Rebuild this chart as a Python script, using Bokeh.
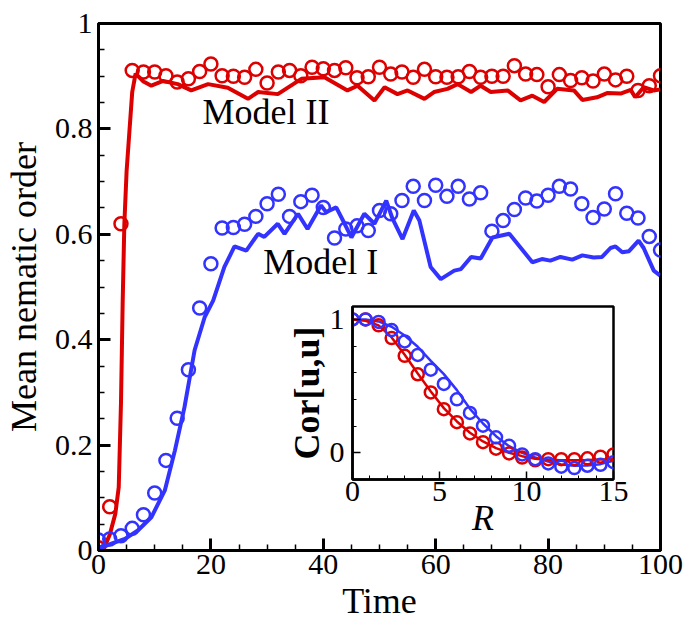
from bokeh.plotting import figure
from bokeh.layouts import column
from bokeh.models import FixedTicker, NumeralTickFormatter, Label
from bokeh.embed import file_html
from bokeh.resources import INLINE

# ---- main panel: mean nematic order versus time ----
t_circ = list(range(0, 101, 2))
model2_circ = [0.005, 0.083, 0.62, 0.911, 0.908, 0.908, 0.901, 0.889, 0.895, 0.909,
               0.923, 0.901, 0.900, 0.898, 0.913, 0.887, 0.908, 0.911, 0.901, 0.917,
               0.914, 0.911, 0.916, 0.897, 0.899, 0.917, 0.904, 0.908, 0.898, 0.913,
               0.899, 0.898, 0.899, 0.909, 0.898, 0.900, 0.900, 0.920, 0.904, 0.903,
               0.880, 0.903, 0.892, 0.897, 0.891, 0.904, 0.893, 0.900, 0.873, 0.882,
               0.901]
model1_circ = [0.020, 0.022, 0.028, 0.042, 0.068, 0.109, 0.171, 0.251, 0.343, 0.460,
               0.544, 0.612, 0.613, 0.619, 0.634, 0.658, 0.676, 0.634, 0.662, 0.674,
               0.651, 0.593, 0.610, 0.616, 0.607, 0.645, 0.639, 0.664, 0.691, 0.664,
               0.693, 0.672, 0.691, 0.667, 0.679, 0.606, 0.626, 0.647, 0.669, 0.663,
               0.674, 0.691, 0.686, 0.658, 0.632, 0.648, 0.677, 0.640, 0.631, 0.596,
               0.570]

model2_t = [0, 1, 2, 3, 3.6, 4.0, 4.3, 4.6, 5.0, 5.4, 6.0, 6.6, 8.0, 9.4, 11.5, 14.1,
            16.5, 19.5, 23.0, 26.6, 28.4, 31.9, 36.1, 40.2, 44.3, 46.1, 49.1, 50.9,
            53.2, 55.0, 58.0, 59.7, 62.1, 63.9, 66.3, 68.0, 69.8, 72.8, 75.1, 77.2,
            79.3, 81.6, 84.6, 86.1, 88.7, 90.5, 92.9, 94.7, 95.5, 97.0, 98.8, 100]
model2_line = [0.0, 0.005, 0.03, 0.07, 0.12, 0.28, 0.47, 0.62, 0.72, 0.78, 0.87, 0.905,
               0.89, 0.882, 0.891, 0.885, 0.873, 0.885, 0.878, 0.857, 0.870, 0.866,
               0.895, 0.898, 0.873, 0.882, 0.854, 0.879, 0.866, 0.873, 0.857, 0.870,
               0.876, 0.885, 0.870, 0.882, 0.870, 0.873, 0.854, 0.863, 0.851, 0.876,
               0.873, 0.855, 0.860, 0.868, 0.867, 0.874, 0.860, 0.879, 0.873, 0.875]

model1_t = [0, 2.3, 4.7, 7.0, 9.4, 11.8, 13.6, 15.3, 17.1, 18.9, 20.4, 22.4, 24.2,
            26.3, 28.4, 29.5, 31.9, 33.1, 35.5, 37.2, 39.6, 40.5, 42.3, 43.8, 45.0,
            47.3, 49.1, 51.2, 52.3, 54.1, 56.1, 57.1, 59.1, 60.9, 63.3, 64.5, 66.3,
            68.0, 70.1, 73.1, 77.2, 78.9, 80.4, 82.2, 84.3, 86.1, 88.1, 89.6, 91.1,
            92.0, 93.2, 94.4, 96.1, 97.0, 98.8, 99.9]
model1_line = [0.003, 0.013, 0.022, 0.038, 0.063, 0.114, 0.190, 0.272, 0.380, 0.443,
               0.474, 0.538, 0.577, 0.569, 0.601, 0.595, 0.620, 0.601, 0.639, 0.610,
               0.655, 0.642, 0.651, 0.620, 0.594, 0.639, 0.620, 0.664, 0.630, 0.591,
               0.645, 0.626, 0.538, 0.515, 0.531, 0.534, 0.557, 0.554, 0.594, 0.601,
               0.547, 0.553, 0.550, 0.557, 0.552, 0.560, 0.556, 0.557, 0.574, 0.577,
               0.566, 0.568, 0.588, 0.574, 0.531, 0.522]

# ---- inset: velocity correlation versus distance ----
r_vals = [i * 0.75 for i in range(21)]
cor2_circ = [1.0, 1.0, 0.956, 0.860, 0.727, 0.589, 0.453, 0.327, 0.230, 0.145, 0.080,
             0.031, -0.005, -0.036, -0.056, -0.048, -0.048, -0.048, -0.041, -0.029,
             -0.012]
cor1_circ = [1.0, 1.0, 0.981, 0.920, 0.835, 0.734, 0.623, 0.516, 0.401, 0.299, 0.203,
             0.116, 0.053, -0.012, -0.048, -0.080, -0.104, -0.114, -0.097, -0.090,
             -0.070]
cor2_line = [1.0, 0.99, 0.955, 0.865, 0.735, 0.595, 0.46, 0.335, 0.235, 0.15, 0.085,
             0.035, 0.0, -0.025, -0.045, -0.052, -0.055, -0.055, -0.053, -0.05, -0.048]
cor1_line = [1.0, 1.0, 0.985, 0.945, 0.88, 0.795, 0.69, 0.59, 0.47, 0.33, 0.22, 0.125,
             0.05, 0.0, -0.035, -0.065, -0.088, -0.097, -0.095, -0.085, -0.06]

RED = "#dd0000"
BLUE = "#3333ff"
SERIF = "'Liberation Serif', 'Times New Roman', serif"


def style_axes(fig, tick_size, label_size):
    for ax in (fig.xaxis[0], fig.yaxis[0]):
        ax.axis_line_width = 3
        ax.axis_line_color = "black"
        ax.major_tick_line_width = 3
        ax.minor_tick_line_width = 1.5
        ax.major_tick_out = 0
        ax.minor_tick_out = 0
        ax.major_label_text_font = SERIF
        ax.major_label_text_font_size = tick_size
        ax.major_label_text_color = "black"
        ax.axis_label_text_font = SERIF
        ax.axis_label_text_font_size = label_size
        ax.axis_label_text_font_style = "normal"
        ax.axis_label_text_color = "black"
    fig.xgrid.visible = False
    fig.ygrid.visible = False
    fig.outline_line_color = "black"
    fig.outline_line_width = 3
    fig.outline_line_alpha = 1.0


p = figure(width=692, height=638, x_range=(0, 100), y_range=(0, 1),
           output_backend="svg", toolbar_location=None,
           min_border_left=97, min_border_right=32, min_border_top=23,
           min_border_bottom=88, background_fill_color="white",
           border_fill_color="white")
style_axes(p, "30px", "36px")
p.xaxis.axis_label = "Time"
p.yaxis.axis_label = "Mean nematic order"
p.xaxis.ticker = FixedTicker(ticks=[0, 20, 40, 60, 80, 100],
                             minor_ticks=list(range(0, 101, 5)))
p.yaxis.ticker = FixedTicker(ticks=[0, 0.2, 0.4, 0.6, 0.8, 1.0],
                             minor_ticks=[i * 0.05 for i in range(21)])
p.yaxis.formatter = NumeralTickFormatter(format="0.[0]")
for ax in (p.xaxis[0], p.yaxis[0]):
    ax.major_tick_in = 12
    ax.minor_tick_in = 6
p.xaxis.major_label_standoff = 4
p.yaxis.major_label_standoff = 6
p.xaxis.axis_label_standoff = 4
p.yaxis.axis_label_standoff = 8

p.line(model2_t, model2_line, line_color=RED, line_width=4)
p.scatter(t_circ, model2_circ, marker="circle", size=13, fill_color=None,
          line_color=RED, line_width=2.5)
p.line(model1_t, model1_line, line_color=BLUE, line_width=4)
p.scatter(t_circ, model1_circ, marker="circle", size=13, fill_color=None,
          line_color=BLUE, line_width=2.5)

p.add_layout(Label(x=18.5, y=0.795, text="Model II", text_font=SERIF,
                   text_font_size="36px", text_color="black"))
p.add_layout(Label(x=29.3, y=0.51, text="Model I", text_font=SERIF,
                   text_font_size="36px", text_color="black"))

# The column lines up the left/right borders of both figures, so the inset
# shares the main panel's 97px / 32px side borders.
inset = figure(width=391, height=237, x_range=(0, 15), y_range=(-0.2, 1.097),
               output_backend="svg", toolbar_location=None,
               min_border_left=97, min_border_right=32, min_border_top=3,
               min_border_bottom=56, background_fill_color="white",
               border_fill_color=None)
style_axes(inset, "30px", "36px")
inset.xaxis.axis_label = "R"
inset.xaxis.axis_label_text_font_style = "italic"
inset.yaxis.axis_label = "Cor[u,u]"
inset.yaxis.axis_label_text_font_style = "bold"
inset.xaxis.ticker = FixedTicker(ticks=[0, 5, 10, 15], minor_ticks=list(range(16)))
inset.yaxis.ticker = FixedTicker(ticks=[0, 1], minor_ticks=[-0.2, 0, 0.2, 0.4, 0.6, 0.8, 1.0])
inset.yaxis.formatter = NumeralTickFormatter(format="0")
for ax in (inset.xaxis[0], inset.yaxis[0]):
    ax.axis_line_width = 2.5
    ax.major_tick_in = 8
    ax.minor_tick_in = 4
    ax.major_tick_line_width = 1.5
    ax.minor_tick_line_width = 1
inset.outline_line_width = 2.5
inset.xaxis.major_label_standoff = 2
inset.yaxis.major_label_standoff = 8
inset.xaxis.axis_label_standoff = -6
inset.yaxis.axis_label_standoff = 0

inset.line(r_vals, cor1_line, line_color=BLUE, line_width=2.5)
inset.line(r_vals, cor2_line, line_color=RED, line_width=2.5)
inset.scatter(r_vals, cor2_circ, marker="circle", size=12, fill_color=None,
              line_color=RED, line_width=2.5)
inset.scatter(r_vals, cor1_circ, marker="circle", size=12, fill_color=None,
              line_color=BLUE, line_width=2.5)

inset.styles = {"position": "absolute", "left": "254px", "top": "303px"}

layout = column(p, inset)
open("out.html", "w").write(file_html(layout, INLINE))
